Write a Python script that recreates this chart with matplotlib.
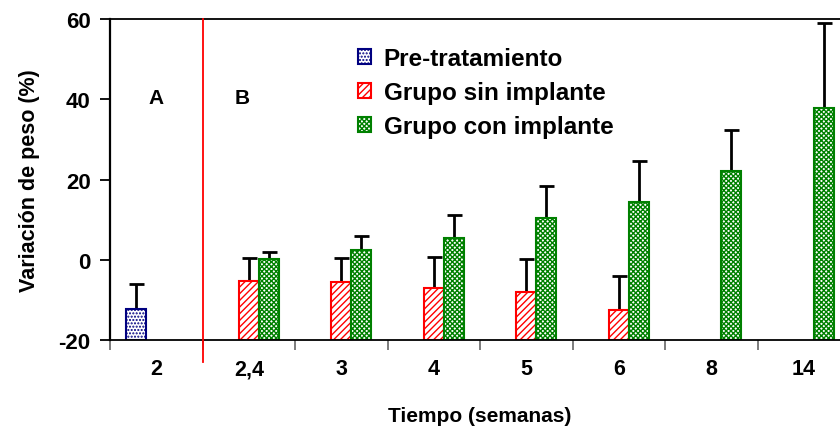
import matplotlib
matplotlib.use("Agg")
import matplotlib.pyplot as plt
import numpy as np

plt.rcParams['font.family'] = ['Liberation Sans', 'DejaVu Sans']
plt.rcParams['font.weight'] = 'bold'
plt.rcParams['axes.unicode_minus'] = False
plt.rcParams['hatch.linewidth'] = 1.0

# Time points (weeks)
categories = ["2", "2,4", "3", "4", "5", "6", "8", "14"]

# Pre-treatment (only first time point)
pre_vals = [-12.2]
pre_err = [6.2]

# Group without implant (2,4 ... 6)
sin_vals = [-5.3, -5.6, -7.0, -8.0, -12.5]
sin_err = [5.8, 6.1, 7.8, 8.3, 8.4]

# Group with implant (2,4 ... 14)
con_vals = [0.3, 2.4, 5.5, 10.5, 14.5, 22.2, 37.7]
con_err = [1.7, 3.6, 5.6, 8.0, 10.2, 10.2, 21.3]

y_min, y_max = -20, 60

fig = plt.figure(figsize=(8.4, 4.35), dpi=100)
ax = fig.add_axes([0.131, 0.216, 0.881, 0.738])

w = 0.216
x_pre = np.arange(len(pre_vals))
x_sin = np.arange(1, 1 + len(sin_vals))
x_con = np.arange(1, 1 + len(con_vals))

ekw = dict(ecolor='black', elinewidth=2.0, capsize=5.4, capthick=2.0)


def bars(x, vals, errs, edge, hatch, label):
    vals = np.asarray(vals)
    b = ax.bar(x, vals - y_min, w, bottom=y_min, color='white', edgecolor=edge,
               hatch=hatch, linewidth=1.5, label=label, zorder=2)
    ax.errorbar(x, vals, yerr=[np.zeros(len(errs)), errs], fmt='none',
                zorder=1, **ekw)
    return b


b_pre = bars(x_pre - w, pre_vals, pre_err, '#000080', '.....', 'Pre-tratamiento')
b_sin = bars(x_sin, sin_vals, sin_err, '#ff0000', '/////', 'Grupo sin implante')
b_con = bars(x_con + w, con_vals, con_err, '#008000', 'xxxxxxx', 'Grupo con implante')

# Divider between phases A and B
ax.plot([0.5, 0.5], [y_max, -25.5], color='#ff0000', linewidth=1.3,
        clip_on=False, zorder=3)
ax.text(0, 40.5, "A", ha='center', va='center', fontsize=15, fontweight='bold')
ax.text(0.93, 40.5, "B", ha='center', va='center', fontsize=15, fontweight='bold')

ax.set_xlim(-0.5, 7.5)
ax.set_ylim(y_min, y_max)
ax.set_yticks([-20, 0, 20, 40, 60])
ax.set_xticks(np.arange(len(categories)))
ax.set_xticklabels(categories)
ax.set_xticks(np.arange(-0.5, 7.0, 1.0), minor=True)
ax.tick_params(axis='x', which='major', length=0, pad=13, labelsize=15.5)
ax.tick_params(axis='x', which='minor', length=7, width=1.2, color='#666666',
               direction='out')
ax.tick_params(axis='y', length=7, width=1.3, direction='out', pad=7,
               labelsize=16)

for side in ['left', 'bottom', 'top']:
    ax.spines[side].set_linewidth(1.3)
ax.spines['left'].set_linewidth(1.6)
ax.spines['right'].set_visible(False)

ax.set_ylabel("Variación de peso (%)", fontsize=15.5, fontweight='bold')
ax.yaxis.set_label_coords(-0.095, 0.5)
ax.set_xlabel("Tiempo (semanas)", fontsize=15, fontweight='bold')
ax.xaxis.set_label_coords(370 / 740, -0.207)

ax.legend(handles=[b_pre, b_sin, b_con], loc='upper left',
          bbox_to_anchor=(358 / 840, 1 - 48 / 435), bbox_transform=fig.transFigure,
          frameon=False, fontsize=17.5, handlelength=0.55, handleheight=0.55,
          handletextpad=0.5, labelspacing=0.45, borderaxespad=0, borderpad=0)

fig.savefig("out.png", dpi=100)
